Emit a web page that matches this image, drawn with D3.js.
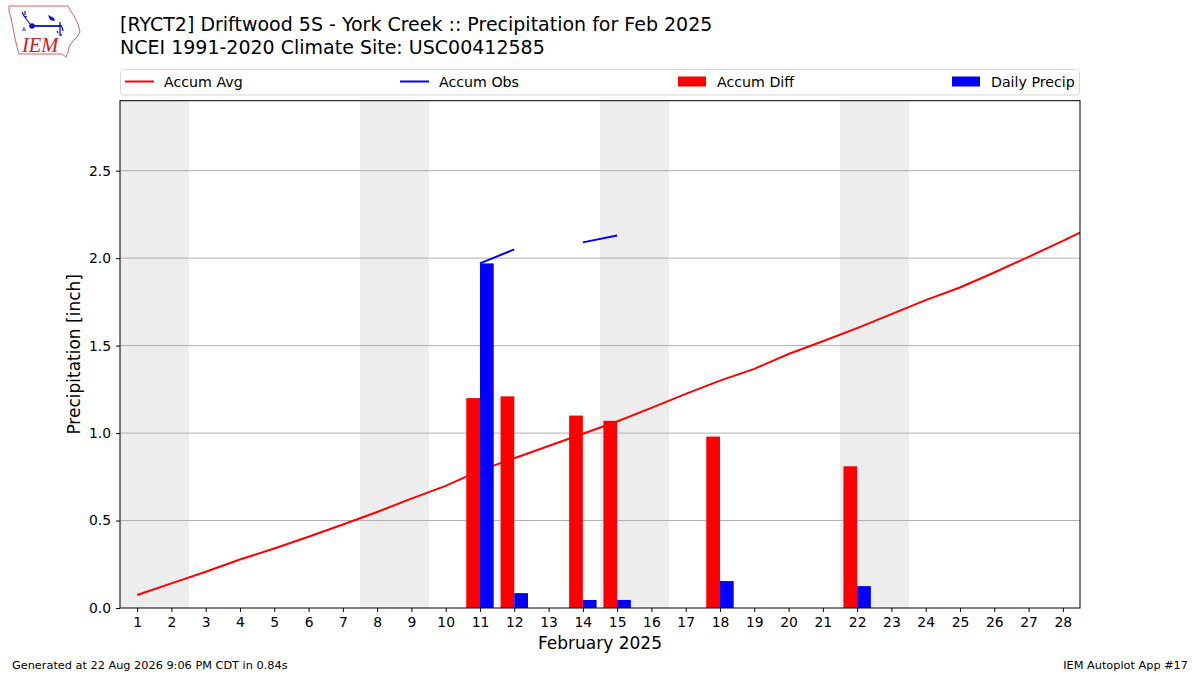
<!DOCTYPE html>
<html>
<head>
<meta charset="utf-8">
<script src="https://cdn.jsdelivr.net/npm/d3@7"></script>
<style>
  body { margin: 0; background: #fff; }
  svg { display: block; font-family: "DejaVu Sans", sans-serif; }
</style>
</head>
<body>
<div id="chart"></div>
<script>
// Values
const days = [1, 2, 3, 4, 5, 6, 7, 8, 9, 10, 11, 12, 13, 14, 15, 16, 17, 18, 19, 20, 21, 22, 23, 24, 25, 26, 27, 28];
const avgDays = [1, 2, 3, 4, 5, 6, 7, 8, 9, 10, 11, 12, 13, 14, 15, 16, 17, 18, 19, 20, 21, 22, 23, 24, 25, 26, 27, 28, 29];
const accumAvg = [0.074, 0.141, 0.207, 0.277, 0.340, 0.407, 0.477, 0.549, 0.625, 0.698,
  0.787, 0.856, 0.926, 0.996, 1.066, 1.144, 1.224, 1.300, 1.367, 1.452,
  1.525, 1.600, 1.680, 1.760, 1.832, 1.918, 2.007, 2.099, 2.192];
const accumObs = [null, null, null, null, null, null, null, null, null, null,
  1.97, 2.05, null, 2.09, 2.13, null, null, null, null, null,
  null, null, null, null, null, null, null, null];
const precipDays = [11, 12, 14, 15, 18, 22];
const accumDiff = [1.20, 1.21, 1.10, 1.07, 0.98, 0.81];
const dailyPrecip = [1.97, 0.085, 0.046, 0.046, 0.154, 0.125];
const weekendDays = [1, 2, 8, 9, 15, 16, 22, 23];
const yTicks = [0, 0.5, 1.0, 1.5, 2.0, 2.5];

const W = 1200, H = 675;
const margin = { top: 100.7, right: 120, bottom: 67, left: 120 };
const plotR = W - margin.right, plotB = H - margin.bottom;

const svg = d3.select("#chart").append("svg")
    .attr("width", W)
    .attr("height", H);

const x = d3.scaleLinear().domain([0.5, 28.5]).range([margin.left, plotR]);
const y = d3.scaleLinear().domain([0, 2.9]).range([plotB, margin.top]);

svg.append("defs").append("clipPath").attr("id", "plot-clip")
    .append("rect")
    .attr("x", margin.left).attr("y", margin.top)
    .attr("width", plotR - margin.left).attr("height", plotB - margin.top);

const plot = svg.append("g").attr("clip-path", "url(#plot-clip)");

// weekend shading
plot.selectAll(".wk")
    .data(weekendDays)
    .enter().append("rect")
    .attr("x", d => x(d - 0.5))
    .attr("width", d => x(d + 0.5) - x(d - 0.5) + 0.5)
    .attr("y", margin.top)
    .attr("height", plotB - margin.top)
    .attr("fill", "#ededed")
    .attr("shape-rendering", "crispEdges");

// y grid
plot.selectAll(".grid")
    .data(yTicks.slice(1))
    .enter().append("line")
    .attr("x1", margin.left).attr("x2", plotR)
    .attr("y1", d => y(d)).attr("y2", d => y(d))
    .attr("stroke", "#b0b0b0")
    .attr("stroke-width", 1);

// lines
const avgLine = d3.line()
    .x((d, i) => x(avgDays[i]))
    .y(d => y(d));
plot.append("path")
    .datum(accumAvg)
    .attr("d", avgLine)
    .attr("fill", "none")
    .attr("stroke", "red")
    .attr("stroke-width", 2);

const obsLine = d3.line()
    .defined(d => d !== null)
    .x((d, i) => x(days[i]))
    .y(d => y(d));
plot.append("path")
    .datum(accumObs)
    .attr("d", obsLine)
    .attr("fill", "none")
    .attr("stroke", "blue")
    .attr("stroke-width", 2);

// bars
plot.selectAll(".diff")
    .data(accumDiff)
    .enter().append("rect")
    .attr("x", (d, i) => x(precipDays[i] - 0.4))
    .attr("width", x(0.9) - x(0.5))
    .attr("y", d => y(d))
    .attr("height", d => y(0) - y(d))
    .attr("fill", "red");

plot.selectAll(".daily")
    .data(dailyPrecip)
    .enter().append("rect")
    .attr("x", (d, i) => x(precipDays[i]))
    .attr("width", x(0.9) - x(0.5))
    .attr("y", d => y(d))
    .attr("height", d => y(0) - y(d))
    .attr("fill", "blue");

// frame
svg.append("rect")
    .attr("x", margin.left).attr("y", margin.top)
    .attr("width", plotR - margin.left).attr("height", plotB - margin.top)
    .attr("fill", "none").attr("stroke", "black").attr("stroke-width", 1);

// axes
const xAxis = svg.append("g")
    .attr("transform", "translate(0," + plotB + ")")
    .call(d3.axisBottom(x).tickValues(days).tickSize(4).tickPadding(5).tickFormat(d3.format("d")));
const yAxis = svg.append("g")
    .attr("transform", "translate(" + margin.left + ",0)")
    .call(d3.axisLeft(y).tickValues(yTicks).tickSize(4).tickPadding(5).tickFormat(d3.format(".1f")));
[xAxis, yAxis].forEach(a => {
    a.select(".domain").remove();
    a.selectAll("text").attr("font-size", 13.9).attr("fill", "#000").attr("font-family", "DejaVu Sans");
    a.selectAll("line").attr("stroke", "#000");
});

svg.append("text")
    .attr("x", (margin.left + plotR) / 2).attr("y", 648.5)
    .attr("text-anchor", "middle").attr("font-size", 17)
    .text("February 2025");
svg.append("text")
    .attr("transform", "translate(80," + ((margin.top + plotB) / 2) + ") rotate(-90)")
    .attr("text-anchor", "middle").attr("font-size", 17)
    .text("Precipitation [inch]");

// titles
svg.append("text").attr("x", 120).attr("y", 30.5).attr("font-size", 19)
    .text("[RYCT2] Driftwood 5S - York Creek :: Precipitation for Feb 2025");
svg.append("text").attr("x", 120).attr("y", 54).attr("font-size", 19)
    .text("NCEI 1991-2020 Climate Site: USC00412585");

// legend
const legend = svg.append("g");
legend.append("rect")
    .attr("x", 120.5).attr("y", 69.5).attr("width", 959).attr("height", 25.5)
    .attr("rx", 3).attr("fill", "#fff").attr("stroke", "#d6d6d6");
const legendItems = [
    { label: "Accum Avg", color: "red", kind: "line", x0: 125 },
    { label: "Accum Obs", color: "blue", kind: "line", x0: 400 },
    { label: "Accum Diff", color: "red", kind: "rect", x0: 678 },
    { label: "Daily Precip", color: "blue", kind: "rect", x0: 952 }
];
legendItems.forEach(it => {
    if (it.kind === "line") {
        legend.append("line")
            .attr("x1", it.x0).attr("x2", it.x0 + 29)
            .attr("y1", 81.5).attr("y2", 81.5)
            .attr("stroke", it.color).attr("stroke-width", 2);
    } else {
        legend.append("rect")
            .attr("x", it.x0).attr("y", 76.5).attr("width", 28).attr("height", 10)
            .attr("fill", it.color);
    }
    legend.append("text")
        .attr("x", it.x0 + 39).attr("y", 86.5)
        .attr("font-size", 14.2)
        .text(it.label);
});

// footer
svg.append("text").attr("x", 12).attr("y", 669).attr("font-size", 11.3)
    .text("Generated at 22 Aug 2026 9:06 PM CDT in 0.84s");
svg.append("text").attr("x", 1188).attr("y", 669).attr("font-size", 11.3)
    .attr("text-anchor", "end")
    .text("IEM Autoplot App #17");

// IEM logo (rough)
const logo = svg.append("g");
logo.append("path")
    .attr("d", "M9,6 L68,6 L70,10 L74,16 L78,24 L80,32 L77,37 L72,42 L69,47 L68,52 L66,57 L62,54 L19,54 L17,47 L15,38 L13,28 L11,18 L9,11 Z")
    .attr("fill", "#fff").attr("stroke", "#e06060").attr("stroke-width", 1);
logo.append("line").attr("x1", 30).attr("x2", 62).attr("y1", 26).attr("y2", 26)
    .attr("stroke", "#1010c0").attr("stroke-width", 1.8);
logo.append("circle").attr("cx", 32).attr("cy", 26).attr("r", 2.8).attr("fill", "#1010c0");
logo.append("path").attr("d", "M22,12 L24,16 L27,17 M25,11 L25,15 M24,16 L30,24").attr("stroke", "#1010c0")
    .attr("fill", "none").attr("stroke-width", 1.2);
logo.append("path").attr("d", "M48,15 L54,18 L55,21 L50,20 Z").attr("fill", "#1010c0");
logo.append("path").attr("d", "M60,22 L60,35 L62,35 M57,31 L58,33 M62,27 L63,31").attr("stroke", "#1010c0")
    .attr("fill", "none").attr("stroke-width", 1.3);
logo.append("path").attr("d", "M23,28 L25,28 M22,30 L26,30").attr("stroke", "#1010c0")
    .attr("stroke-width", 1);
logo.append("text").attr("x", 22).attr("y", 52)
    .attr("font-family", "Liberation Serif, serif").attr("font-style", "italic")
    .attr("font-size", 20.5).attr("fill", "#d02020")
    .text("IEM");
</script>
</body>
</html>
